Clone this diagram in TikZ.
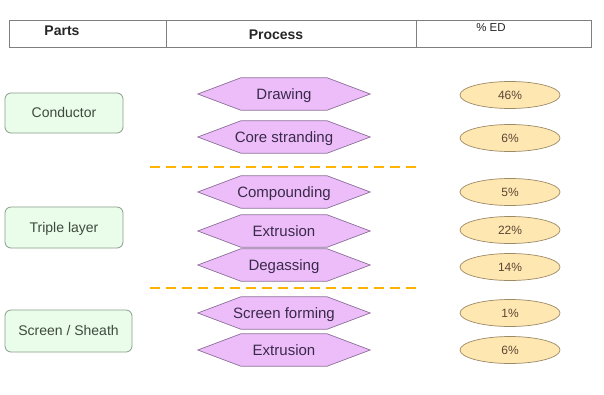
\documentclass[tikz,border=0pt]{standalone}
\usepackage{fontspec}
\setmainfont{Liberation Sans}
\usetikzlibrary{shapes.geometric}
\pgfdeclarelayer{background}
\pgfsetlayers{background,main}
\definecolor{hdrline}{HTML}{7F7F7F}
\definecolor{partfill}{HTML}{EAFCEA}
\definecolor{partline}{HTML}{8A9E8A}
\definecolor{parttext}{HTML}{3F4A3F}
\definecolor{procfill}{HTML}{EDBDFA}
\definecolor{procline}{HTML}{8C6F98}
\definecolor{proctext}{HTML}{3A2A4A}
\definecolor{edfill}{HTML}{FFE7B2}
\definecolor{edline}{HTML}{9C8A66}
\definecolor{edtext}{HTML}{5A4634}
\definecolor{sepline}{HTML}{FFB300}
\tikzset{
  hdrcell/.style={draw=hdrline, line width=0.8pt, inner sep=0pt},
  hdrtext/.style={font=\fontsize{14}{16}\selectfont\bfseries, text=black!85, inner sep=0pt},
  partbox/.style={draw=partline, fill=partfill, rounded corners=6pt, line width=0.8pt,
    inner sep=0pt, text=parttext, font=\fontsize{14}{16}\selectfont, text depth=1pt},
  procbox/.style={rectangle, minimum width=172pt, minimum height=32pt,
    inner sep=0pt, text=proctext, font=\fontsize{15}{17}\selectfont, text depth=0pt},
  procshape/.style={draw=procline, fill=procfill, line width=0.7pt, line join=miter},
  edbox/.style={ellipse, draw=edline, fill=edfill, line width=0.7pt, minimum width=100pt,
    minimum height=27pt, inner sep=0pt, text=edtext, font=\fontsize{12}{14}\selectfont},
  sepdash/.style={draw=sepline, line width=2.6pt, dash pattern=on 10pt off 6pt}
}
\begin{document}
\begin{tikzpicture}[x=1pt, y=-1pt]
  \useasboundingbox (0,0) rectangle (604,394);

  % header row
  \node[hdrcell, minimum width=157pt, minimum height=27pt] (hparts) at (87.5,33.5) {};
  \node[hdrcell, minimum width=250pt, minimum height=27pt] (hproc) at (291,33.5) {};
  \node[hdrcell, minimum width=175pt, minimum height=27pt] (hed) at (503.5,33.5) {};
  \node[hdrtext] (tparts) at (62,31) {Parts};
  \node[hdrtext] (tproc) at (276,35) {Process};
  \node[font=\fontsize{11.5}{13}\selectfont, text=black!85, inner sep=0pt] (ted) at (491,28) {\% ED};

  % parts
  \node[partbox, minimum width=118pt, minimum height=40pt] (conductor) at (64,113) {Conductor};
  \node[partbox, minimum width=118pt, minimum height=41pt] (triple) at (64,227.5) {Triple layer};
  \node[partbox, minimum width=127pt, minimum height=42pt] (screen) at (68.5,331) {Screen / Sheath};

  % process steps (text boxes; hexagon outlines go on the background layer)
  \node[procbox] (drawing) at (284,94) {Drawing};
  \node[procbox] (core) at (284,137) {Core stranding};
  \node[procbox] (compound) at (284,192) {Compounding};
  \node[procbox] (extrA) at (284,231) {Extrusion};
  \node[procbox] (degas) at (284,265) {Degassing};
  \node[procbox] (screenf) at (284,313) {Screen forming};
  \node[procbox] (extrB) at (284,350) {Extrusion};
  \begin{pgfonlayer}{background}
    \fill[white] (0,0) rectangle (604,394);
    \foreach \n in {drawing,core,compound,extrA,degas,screenf,extrB}
      \draw[procshape] (\n.west) -- ([xshift=43pt]\n.north west) -- ([xshift=-43pt]\n.north east)
        -- (\n.east) -- ([xshift=-43pt]\n.south east) -- ([xshift=43pt]\n.south west) -- cycle;
  \end{pgfonlayer}

  % energy share
  \node[edbox] (edA) at (510,95) {46\%};
  \node[edbox] (edB) at (510,138) {6\%};
  \node[edbox] (edC) at (510,192) {5\%};
  \node[edbox] (edD) at (510,230) {22\%};
  \node[edbox] (edE) at (510,267) {14\%};
  \node[edbox] (edF) at (510,313) {1\%};
  \node[edbox] (edG) at (510,350) {6\%};

  % group separators
  \coordinate (sepAl) at (150,167);
  \coordinate (sepAr) at (420,167);
  \coordinate (sepBl) at (150,288);
  \coordinate (sepBr) at (420,288);
  \draw[sepdash] (sepAl) -- (sepAr);
  \draw[sepdash] (sepBl) -- (sepBr);
\end{tikzpicture}
\end{document}
